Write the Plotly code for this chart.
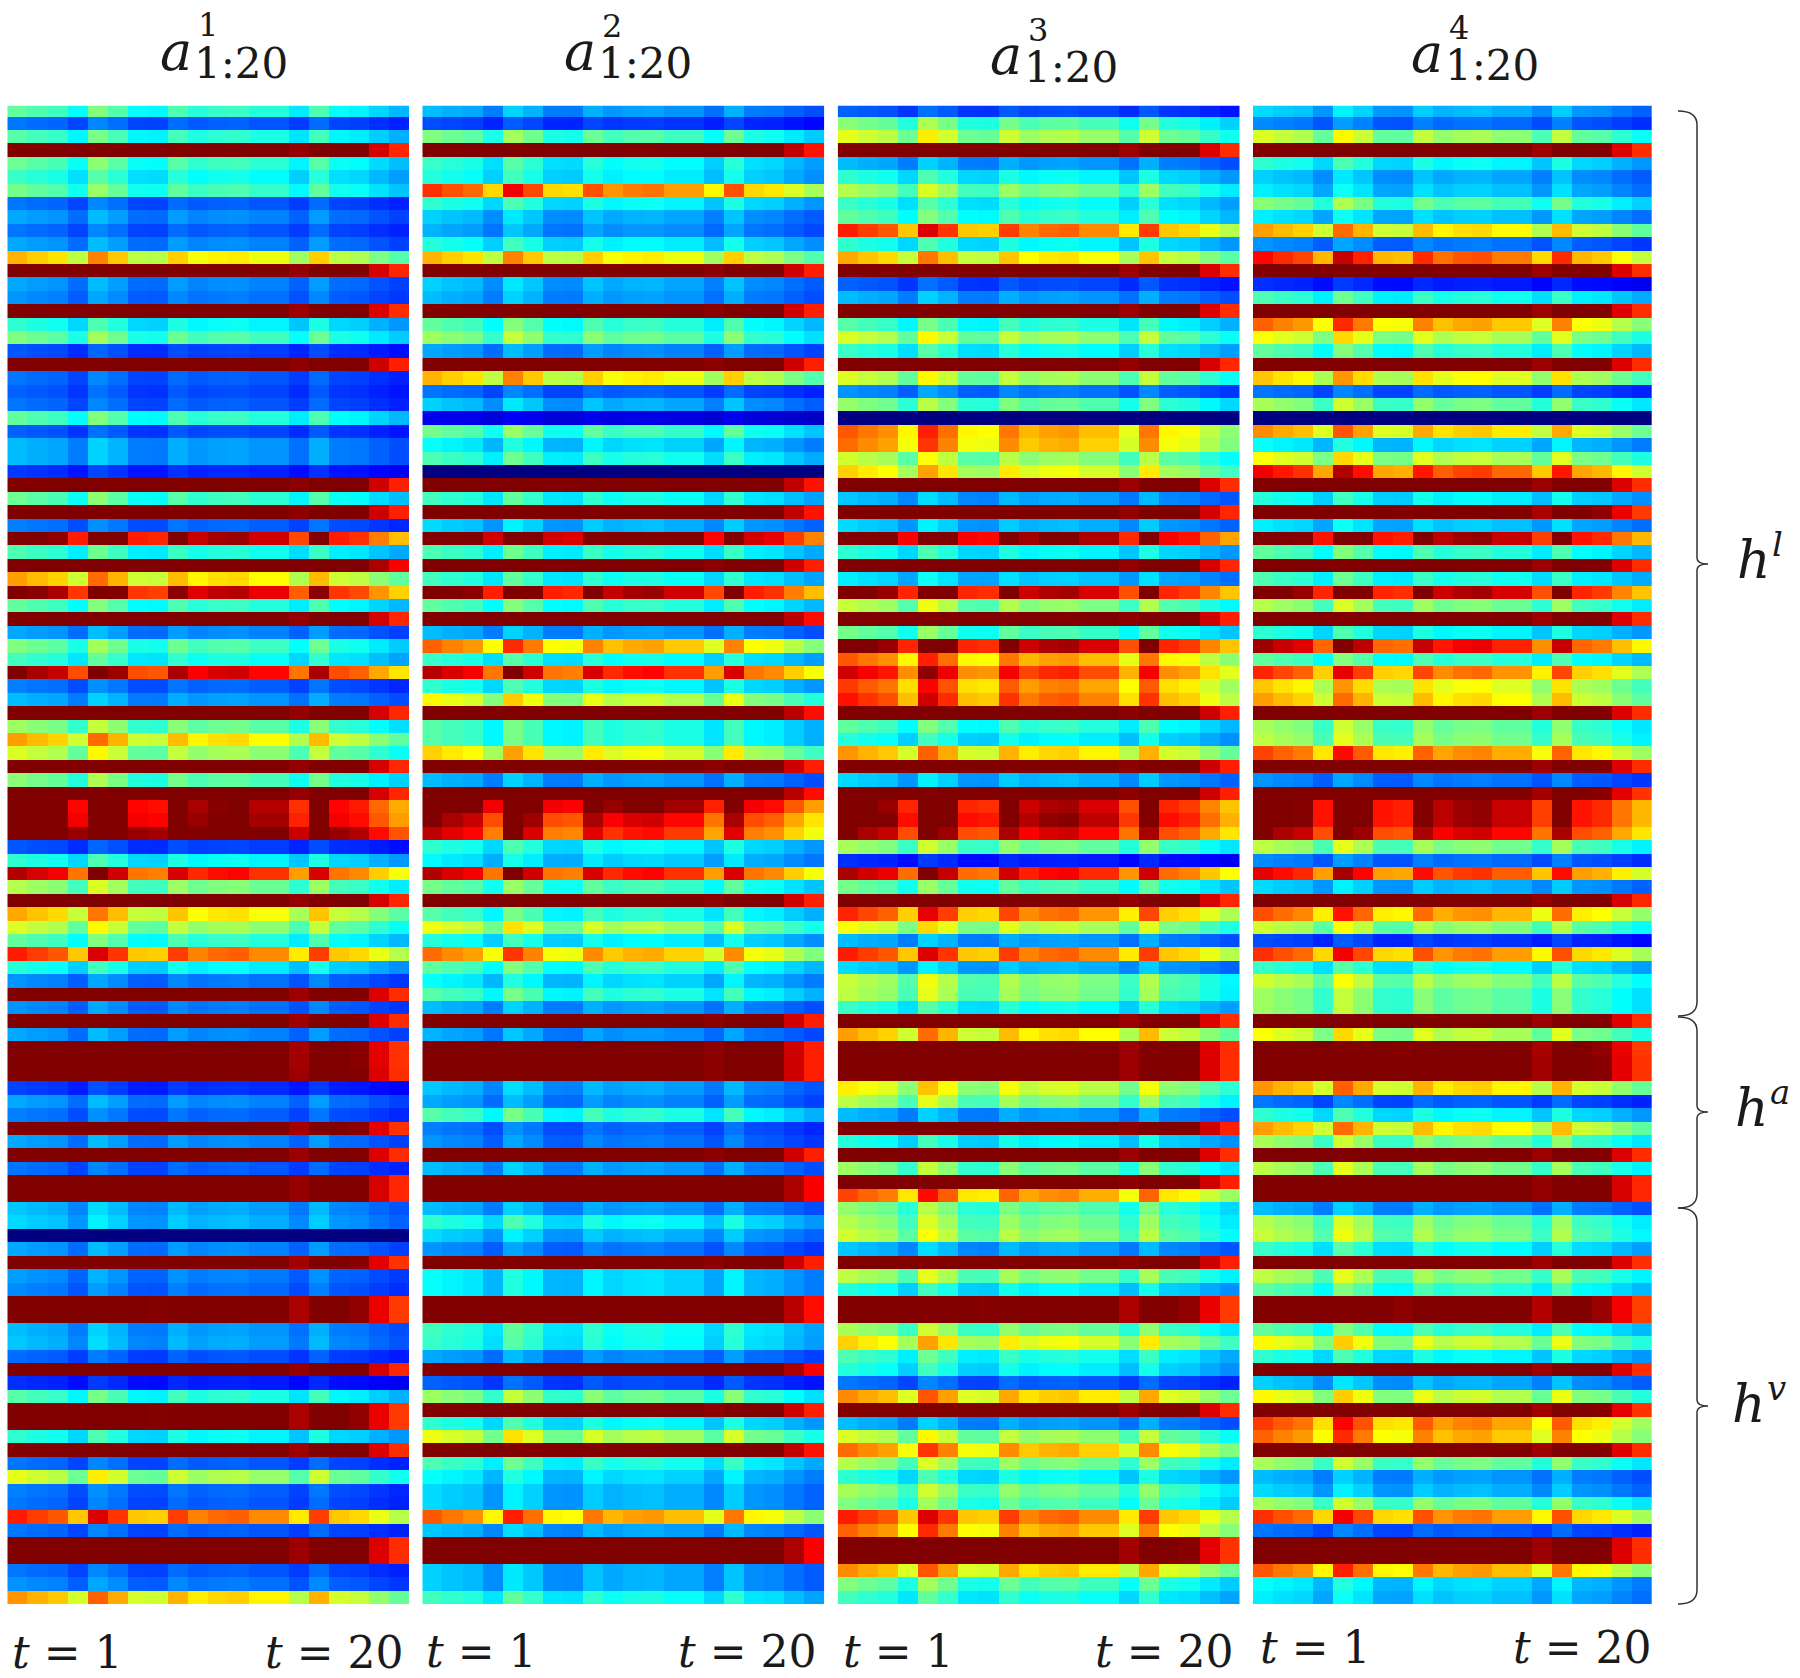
import numpy as np
import plotly.graph_objects as go

W, H = 1800, 1678
steps = list(range(1, 21))

# Level read at t = 1 for each of the 112 rows (values above 1 saturate to dark red).
panel_a1 = [.47,.24,.46,1.29,.48,.43,.49,.24,.29,.24,.29,.70,1.29,.29,.27,1.28,.42,.50,.21,1.30,.24,.22,.24,.47,.22,.31,.31,.18,1.30,.48,1.30,.25,1.06,.45,1.35,.72,1.03,.47,
 1.29,.29,.50,.44,1.0,.25,.31,1.29,.53,.72,.59,1.29,.51,1.29,1.09,1.11,1.22,.21,.42,.95,.55,1.29,.71,.59,.47,.85,.41,.27,1.28,.27,1.28,.29,1.27,1.27,1.28,.19,.29,
 .25,1.27,.29,1.28,.24,1.29,1.29,.32,.34,0,.29,1.27,.28,.26,1.26,1.26,.31,.32,.23,1.29,.17,.46,1.26,1.26,.42,1.28,.24,.60,.25,.24,.85,.24,1.28,1.28,.24,.27,.73]
panel_a2 = [.31,.20,.50,1.32,.43,.41,.83,.42,.33,.30,.41,.70,1.3,.33,.31,1.3,.47,.53,.29,1.3,.70,.24,.33,.11,.49,.38,.45,0,1.32,.44,1.32,.34,1.15,.45,1.3,.44,1.06,.47,
 1.33,.31,.78,.43,.95,.42,.63,1.33,.46,.46,.67,1.3,.31,1.33,1.11,1.0,.94,.42,.37,.95,.49,1.3,.46,.61,.41,.77,.47,.38,.46,.31,1.3,.30,1.3,1.3,1.3,.32,.29,
 .46,.25,.27,1.3,.31,1.35,1.35,.31,.42,.34,.27,1.3,.38,.38,1.33,1.33,.44,.43,.29,1.35,.22,.53,1.3,.42,.61,1.32,.45,.38,.34,.34,.79,.32,1.35,1.35,.33,.33,.44]
panel_a3 = [.22,.51,.60,1.28,.31,.42,.55,.43,.47,.85,.42,.71,1.28,.22,.31,1.28,.46,.59,.43,1.29,.59,.27,.52,0,.79,.77,.58,.67,1.28,.32,1.29,.34,1.10,.42,1.29,.36,1.05,.57,
 1.3,.49,1.05,.79,.92,.82,.86,1.3,.47,.41,.73,1.3,.34,1.3,1.05,1.08,1.0,.54,.17,.96,.49,1.29,.84,.62,.31,.85,.34,.57,.56,.43,1.28,.72,1.28,1.28,1.28,.64,.56,
 .31,1.3,.41,1.28,.53,1.3,.81,.52,.55,.58,.32,1.3,.56,.41,1.26,1.26,.54,.67,.45,.41,.24,.74,1.28,.31,.59,.77,.55,.42,.54,.50,.85,.78,1.27,1.27,.74,.50,.44]
panel_a4 = [.34,.26,.59,1.28,.42,.33,.36,.51,.36,.72,.27,.87,1.28,.17,.45,1.28,.78,.62,.47,1.28,.68,.24,.54,0,.74,.38,.62,.89,1.28,.41,1.26,.36,1.07,.47,1.28,.45,1.05,.55,
 1.28,.42,.97,.47,.84,.68,.72,1.28,.54,.56,.81,1.28,.27,1.27,1.07,1.07,1.0,.56,.26,.90,.34,1.29,.80,.58,.20,.83,.43,.58,.53,.53,1.28,.62,1.26,1.27,1.27,.73,.24,
 .42,.72,.54,1.28,.56,1.29,1.29,.31,.55,.57,.43,1.28,.56,.47,1.25,1.25,.47,.63,.42,1.28,.33,.63,1.27,.82,.78,1.28,.54,.31,.34,.54,.83,.24,1.28,1.28,.79,.38,.36]

# Relative change across the 20 time steps, read from rows with visible variation.
step_factor = [1,.96,.93,.80,1.07,.97,.80,.79,.96,.88,.91,.92,.87,.87,.76,.96,.80,.78,.71,.65]

panels = [panel_a1, panel_a2, panel_a3, panel_a4]
panel_sup = ["1", "2", "3", "4"]
sub_text = "1:20"
brace_labels = ["l", "a", "v"]
for rows in panels:
    assert len(rows) == 112

jet = [[0, "rgb(0,0,128)"], [.125, "rgb(0,0,255)"], [.375, "rgb(0,255,255)"],
       [.625, "rgb(255,255,0)"], [.875, "rgb(255,0,0)"], [1, "rgb(128,0,0)"]]

# Layout, in pixels of the page
px_left = [7.3, 422.3, 837.7, 1253]
px_right = [409, 824.3, 1239.7, 1651.7]
px_top, px_bottom = 105.7, 1604.3
fx = lambda x: x / W
fy = lambda y: 1 - y / H

fig = go.Figure()
layout = {}
for i, rows in enumerate(panels):
    z = np.outer(np.array(rows), np.array(step_factor))
    n = "" if i == 0 else str(i + 1)
    fig.add_trace(go.Heatmap(z=z, x=steps, y=list(range(len(rows))), zmin=0, zmax=1,
                             colorscale=jet, showscale=False, xaxis="x" + n, yaxis="y" + n,
                             xgap=0, ygap=0))
    layout["xaxis" + n] = dict(domain=[fx(px_left[i]), fx(px_right[i])], range=[.5, 20.5],
                               visible=False, anchor="y" + n, fixedrange=True)
    layout["yaxis" + n] = dict(domain=[fy(px_bottom), fy(px_top)], range=[111.5, -0.31],
                               visible=False, anchor="x" + n, fixedrange=True)

serif = "DejaVu Serif"
ink = "#1a1a1a"
ann = []
def text(x, y, s, size, italic=False):
    ann.append(dict(x=fx(x), y=fy(y), xref="paper", yref="paper", text=s, showarrow=False,
                    xanchor="left", yanchor="middle", align="left", borderpad=0,
                    font=dict(family=serif, size=size, color=ink, style="italic" if italic else "normal")))

title_x = [161, 565, 991, 1412]
title_dy = [0, 1, 5, 3]
for x, dy, sup in zip(title_x, title_dy, panel_sup):
    text(x - 2, 51 + dy, "a", 54, True)
    text(x + 36, 25 + dy, sup, 32)
    text(x + 32, 63 + dy, sub_text, 42)

t_pos = [(11, 1652, 264), (425, 1651, 677), (842, 1651, 1094), (1259, 1647, 1512)]
for x1, y, x2 in t_pos:
    text(x1, y, "<i>t</i> = 1", 44)
    text(x2, y, "<i>t</i> = 20", 44)

# Braces
shapes = []
x0, x1, tip = 1678, 1697, 1708
r = 14
for y0, ym, y1 in [(111, 564, 1016), (1017, 1112, 1208), (1208, 1406, 1604)]:
    p = (f"M {fx(x0)} {fy(y0)} Q {fx(x1)} {fy(y0)} {fx(x1)} {fy(y0+r)} "
         f"L {fx(x1)} {fy(ym-6)} Q {fx(x1)} {fy(ym)} {fx(tip)} {fy(ym)} "
         f"Q {fx(x1)} {fy(ym)} {fx(x1)} {fy(ym+6)} "
         f"L {fx(x1)} {fy(y1-r)} Q {fx(x1)} {fy(y1)} {fx(x0)} {fy(y1)}")
    shapes.append(dict(type="path", path=p, xref="paper", yref="paper",
                       line=dict(color="#333333", width=1.5)))

for (x, y), s in zip([(1736, 560), (1734, 1108), (1731, 1404)], brace_labels):
    text(x, y, "h", 52, True)
    text(x + 35, y - 16, s, 34, True)

fig.update_layout(width=W, height=H, margin=dict(l=0, r=0, t=0, b=0),
                  paper_bgcolor="white", plot_bgcolor="white",
                  annotations=ann, shapes=shapes, **layout)
fig.write_html("out.html", config=dict(displayModeBar=False),
               post_script="document.body.style.margin='0';")
